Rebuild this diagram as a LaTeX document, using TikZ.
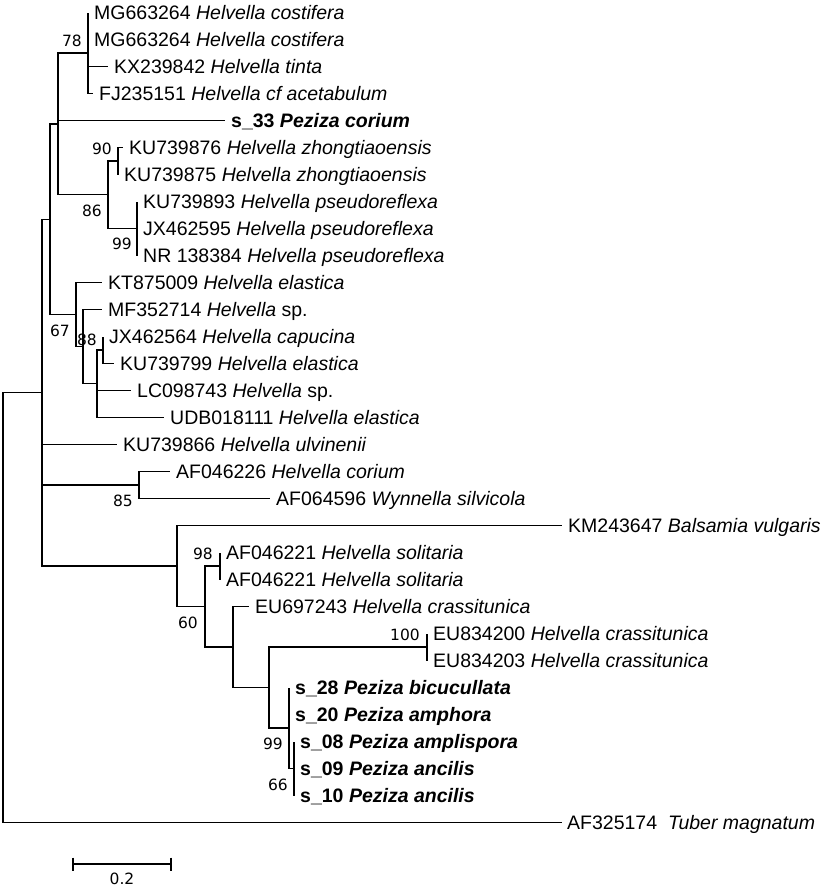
\documentclass[tikz,border=0pt]{standalone}
\usepackage{fontspec}
\setmainfont{Liberation Sans}
\newfontfamily\bsfont{DejaVu Sans}
\usetikzlibrary{calc}
\begin{document}
\begin{tikzpicture}[x=1pt,y=-1pt,
  br/.style={line width=1.3pt, line join=miter},
  lab/.style={anchor=base west, inner sep=0pt, font=\fontsize{19.5}{20}\selectfont},
  bs/.style={anchor=east, inner sep=0pt, font=\bsfont\fontsize{15.5}{16}\selectfont}]
\useasboundingbox (0,0) rectangle (829,889);
% internal nodes
\coordinate (root) at (3,607.55);
\coordinate (I) at (42,392.61);
\coordinate (D) at (50,219.22);
\coordinate (B) at (58,123.875);
\coordinate (A) at (88,53);
\coordinate (C) at (108,194.75);
\coordinate (C1) at (118,161);
\coordinate (C2) at (137,228.5);
\coordinate (E) at (76,314.56);
\coordinate (F) at (83,346.625);
\coordinate (G) at (97,383.75);
\coordinate (H) at (103,350);
\coordinate (J) at (139,485);
\coordinate (K) at (177,566);
\coordinate (L) at (205,606.5);
\coordinate (M) at (220,566);
\coordinate (N) at (233,647);
\coordinate (O) at (269,687.5);
\coordinate (P) at (427,647);
\coordinate (Q) at (289,728);
\coordinate (R) at (294,768.5);
% tips
\coordinate (t1) at (88,12.5);
\coordinate (t2) at (88,39.5);
\coordinate (t3) at (108,66.5);
\coordinate (t4) at (93,93.5);
\coordinate (t5) at (225,120.5);
\coordinate (t6) at (123,147.5);
\coordinate (t7) at (118,174.5);
\coordinate (t8) at (137,201.5);
\coordinate (t9) at (137,228.5);
\coordinate (t10) at (137,255.5);
\coordinate (t11) at (102,282.5);
\coordinate (t12) at (102,309.5);
\coordinate (t13) at (103,336.5);
\coordinate (t14) at (114,363.5);
\coordinate (t15) at (131,390.5);
\coordinate (t16) at (164,417.5);
\coordinate (t17) at (117,444.5);
\coordinate (t18) at (170,471.5);
\coordinate (t19) at (270,498.5);
\coordinate (t20) at (562,525.5);
\coordinate (t21) at (220,552.5);
\coordinate (t22) at (220,579.5);
\coordinate (t23) at (249,606.5);
\coordinate (t24) at (427,633.5);
\coordinate (t25) at (427,660.5);
\coordinate (t26) at (289,687.5);
\coordinate (t27) at (289,714.5);
\coordinate (t28) at (294,741.5);
\coordinate (t29) at (294,768.5);
\coordinate (t30) at (294,795.5);
\coordinate (t31) at (562,822.5);
% branches
\foreach \p/\c in {root/I,root/t31,I/D,I/t17,I/J,I/K,D/B,D/E,B/A,B/t5,B/C,
  A/t1,A/t2,A/t3,A/t4,C/C1,C/C2,C1/t6,C1/t7,C2/t8,C2/t9,C2/t10,E/t11,E/F,
  F/t12,F/G,G/H,G/t15,G/t16,H/t13,H/t14,J/t18,J/t19,K/t20,K/L,L/M,L/N,
  M/t21,M/t22,N/t23,N/O,O/P,O/Q,P/t24,P/t25,Q/t26,Q/t27,Q/R,R/t28,R/t29,R/t30}
  \draw[br] (\p) |- (\c);
% labels
\node[lab] (l1) at ($(t1)+(6,7)$) {MG663264 \textit{Helvella costifera}};
\node[lab] (l2) at ($(t2)+(6,7)$) {MG663264 \textit{Helvella costifera}};
\node[lab] (l3) at ($(t3)+(6,7)$) {KX239842 \textit{Helvella tinta}};
\node[lab] (l4) at ($(t4)+(6,7)$) {FJ235151 \textit{Helvella cf acetabulum}};
\node[lab] (l5) at ($(t5)+(6,7)$) {\bfseries s\_33 \itshape Peziza corium};
\node[lab] (l6) at ($(t6)+(6,7)$) {KU739876 \textit{Helvella zhongtiaoensis}};
\node[lab] (l7) at ($(t7)+(6,7)$) {KU739875 \textit{Helvella zhongtiaoensis}};
\node[lab] (l8) at ($(t8)+(6,7)$) {KU739893 \textit{Helvella pseudoreflexa}};
\node[lab] (l9) at ($(t9)+(6,7)$) {JX462595 \textit{Helvella pseudoreflexa}};
\node[lab] (l10) at ($(t10)+(6,7)$) {NR 138384 \textit{Helvella pseudoreflexa}};
\node[lab] (l11) at ($(t11)+(6,7)$) {KT875009 \textit{Helvella elastica}};
\node[lab] (l12) at ($(t12)+(6,7)$) {MF352714 \textit{Helvella} sp.};
\node[lab] (l13) at ($(t13)+(6,7)$) {JX462564 \textit{Helvella capucina}};
\node[lab] (l14) at ($(t14)+(6,7)$) {KU739799 \textit{Helvella elastica}};
\node[lab] (l15) at ($(t15)+(6,7)$) {LC098743 \textit{Helvella} sp.};
\node[lab] (l16) at ($(t16)+(6,7)$) {UDB018111 \textit{Helvella elastica}};
\node[lab] (l17) at ($(t17)+(6,7)$) {KU739866 \textit{Helvella ulvinenii}};
\node[lab] (l18) at ($(t18)+(6,7)$) {AF046226 \textit{Helvella corium}};
\node[lab] (l19) at ($(t19)+(6,7)$) {AF064596 \textit{Wynnella silvicola}};
\node[lab] (l20) at ($(t20)+(6,7)$) {KM243647 \textit{Balsamia vulgaris}};
\node[lab] (l21) at ($(t21)+(6,7)$) {AF046221 \textit{Helvella solitaria}};
\node[lab] (l22) at ($(t22)+(6,7)$) {AF046221 \textit{Helvella solitaria}};
\node[lab] (l23) at ($(t23)+(6,7)$) {EU697243 \textit{Helvella crassitunica}};
\node[lab] (l24) at ($(t24)+(6,7)$) {EU834200 \textit{Helvella crassitunica}};
\node[lab] (l25) at ($(t25)+(6,7)$) {EU834203 \textit{Helvella crassitunica}};
\node[lab] (l26) at ($(t26)+(6,7)$) {\bfseries s\_28 \itshape Peziza bicucullata};
\node[lab] (l27) at ($(t27)+(6,7)$) {\bfseries s\_20 \itshape Peziza amphora};
\node[lab] (l28) at ($(t28)+(6,7)$) {\bfseries s\_08 \itshape Peziza amplispora};
\node[lab] (l29) at ($(t29)+(6,7)$) {\bfseries s\_09 \itshape Peziza ancilis};
\node[lab] (l30) at ($(t30)+(6,7)$) {\bfseries s\_10 \itshape Peziza ancilis};
\node[lab] (l31) at ($(t31)+(5,7)$) {AF325174\ \ \textit{Tuber magnatum}};
% bootstrap values
\node[bs] (b78) at ($(A)+(-6,-12.5)$) {78};
\node[bs] (b90) at ($(C1)+(-6,-12.5)$) {90};
\node[bs] (b86) at ($(C)+(-6,16)$) {86};
\node[bs] (b99a) at ($(C2)+(-5,15)$) {99};
\node[bs] (b67) at ($(E)+(-6,16)$) {67};
\node[bs] (b88) at ($(H)+(-6,-10)$) {88};
\node[bs] (b85) at ($(J)+(-6,16)$) {85};
\node[bs] (b98) at ($(M)+(-7,-12.5)$) {98};
\node[bs] (b60) at ($(L)+(-7,16)$) {60};
\node[bs] (b100) at ($(P)+(-7,-12.5)$) {100};
\node[bs] (b99b) at ($(Q)+(-6,16)$) {99};
\node[bs] (b66) at ($(R)+(-6,16)$) {66};
% scale bar
\coordinate (sb1) at (73,864);
\coordinate (sb2) at (171,864);
\draw[br] (sb1) -- (sb2);
\draw[br] ($(sb1)+(0,-6.5)$) -- ($(sb1)+(0,6.5)$);
\draw[br] ($(sb2)+(0,-6.5)$) -- ($(sb2)+(0,6.5)$);
\node[bs, anchor=center] (sbl) at (122,879) {0.2};
\end{tikzpicture}
\end{document}
